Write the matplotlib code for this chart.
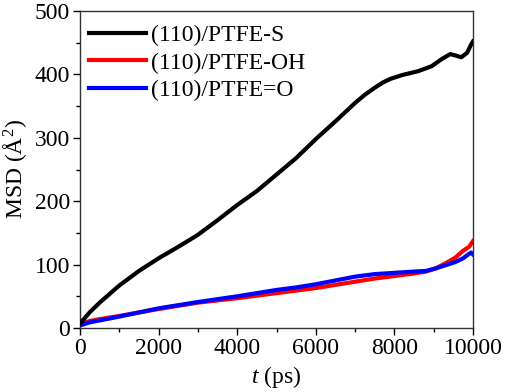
import matplotlib
matplotlib.use("Agg")
import matplotlib.pyplot as plt
from matplotlib.ticker import MultipleLocator

plt.rcParams['font.family'] = ['Liberation Serif', 'DejaVu Serif']
plt.rcParams['mathtext.fontset'] = 'custom'
plt.rcParams['mathtext.rm'] = 'Liberation Serif'
plt.rcParams['mathtext.it'] = 'Liberation Serif:italic'

t_s = [0, 250, 500, 1000, 1500, 2000, 2500, 3000, 3500, 4000, 4500, 5000, 5500, 6000,
       6500, 7000, 7250, 7500, 7700, 7900, 8200, 8600, 8950, 9200, 9420, 9550, 9700, 9850, 9950, 10000]
msd_s = [7, 25, 40, 67, 90, 110, 128, 147, 170, 194, 216, 242, 268, 298,
         326, 355, 368, 379, 387, 393, 399, 405, 413, 424, 432, 430, 427, 434, 447, 452]

t_oh = [0, 250, 500, 1000, 2000, 3000, 4000, 4500, 5000, 5500, 6000, 6500, 7000, 7500,
        8000, 8500, 8800, 9050, 9300, 9550, 9750, 9900, 10000]
msd_oh = [6, 11, 14, 19, 30, 40, 47, 51, 55, 59, 63, 68, 73, 78,
          82, 86, 89, 94, 102, 111, 122, 128, 137]

t_o = [0, 250, 500, 1000, 2000, 3000, 4000, 4500, 5000, 5500, 6000, 6500, 7000, 7500,
       8000, 8500, 8800, 9050, 9300, 9550, 9750, 9880, 9950, 10000]
msd_o = [4, 9, 12, 18, 31, 41, 50, 55, 60, 64, 69, 75, 81, 85,
         87, 89, 90, 94, 99, 104, 110, 116, 119, 116]

labels = ['(110)/PTFE-S', '(110)/PTFE-OH', '(110)/PTFE=O']
colors = ['#000000', '#ff0000', '#0000ff']

fig = plt.figure(figsize=(5.05, 3.92), dpi=100)
ax = fig.add_axes([80/505, 1 - 328/392, (473-80)/505, (328-11)/392])

ax.plot(t_s, msd_s, color=colors[0], lw=3, label=labels[0], zorder=3)
ax.plot(t_oh, msd_oh, color=colors[1], lw=3, label=labels[1], zorder=2)
ax.plot(t_o, msd_o, color=colors[2], lw=3, label=labels[2], zorder=2.5)

ax.set_xlim(0, 10000)
ax.set_ylim(0, 500)
ax.xaxis.set_major_locator(MultipleLocator(2000))
ax.xaxis.set_minor_locator(MultipleLocator(1000))
ax.yaxis.set_major_locator(MultipleLocator(100))
ax.yaxis.set_minor_locator(MultipleLocator(50))
ax.tick_params(which='both', direction='out', top=False, right=False, labelsize=17, width=1, pad=2)
ax.tick_params(which='major', length=5)
ax.tick_params(which='minor', length=3)
for sp in ax.spines.values():
    sp.set_linewidth(1)
    sp.set_color('#333333')

ax.set_xlabel(r'$\mathit{t}$ (ps)', fontsize=17, labelpad=4)
ax.set_ylabel('MSD (Å$^2$)', fontsize=17, labelpad=4)

ax.legend(loc='upper left', bbox_to_anchor=(0.0, 1 - 4/317), frameon=False, fontsize=17,
          handlelength=2.4, handletextpad=0.2, labelspacing=0.26, borderaxespad=0.0)

fig.savefig('out.png', dpi=100)
